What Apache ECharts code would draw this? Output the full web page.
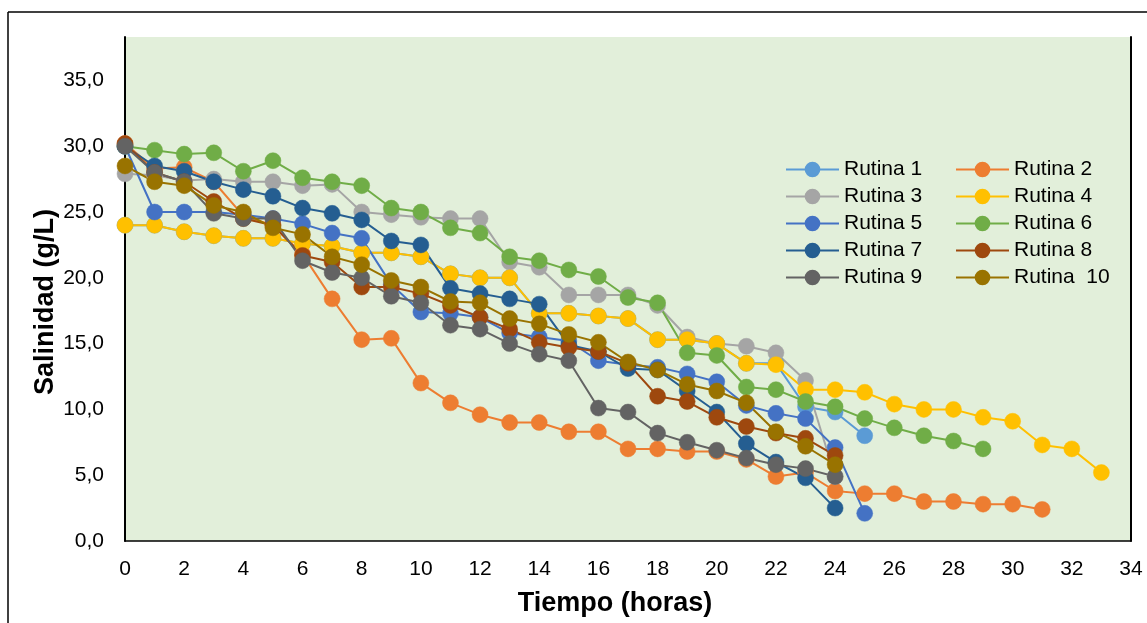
<!DOCTYPE html>
<html>
<head>
<meta charset="utf-8">
<script src="https://cdn.jsdelivr.net/npm/echarts@6/dist/echarts.min.js"></script>
<style>
html,body{margin:0;padding:0;background:#fff;}
#chart{width:1147px;height:623px;}
</style>
</head>
<body>
<div id="chart"></div>
<script>
// Tiempo (horas) ticks
const xTicks = [0,2,4,6,8,10,12,14,16,18,20,22,24,26,28,30,32,34];
const yTicks = [0,5,10,15,20,25,30,35];
const seriesNames = ['Rutina 1','Rutina 2','Rutina 3','Rutina 4','Rutina 5','Rutina 6','Rutina 7','Rutina 8','Rutina 9','Rutina  10'];
// Salinidad (g/L), hour 0,1,2,...
const rutina1 = [24.0,24.0,23.5,23.2,23.0,23.0,22.6,22.4,21.9,21.9,21.6,20.3,20.0,20.0,17.3,17.3,17.1,16.9,15.3,15.3,15.0,13.5,13.5,10.2,9.8,8.0];
const rutina2 = [30.2,28.3,28.4,27.3,24.7,24.0,21.8,18.4,15.3,15.4,12.0,10.5,9.6,9.0,9.0,8.3,8.3,7.0,7.0,6.8,6.8,6.2,4.9,5.2,3.8,3.6,3.6,3.0,3.0,2.8,2.8,2.4];
const rutina3 = [27.9,27.8,27.4,27.5,27.3,27.3,27.0,27.1,25.0,24.8,24.6,24.5,24.5,21.2,20.8,18.7,18.7,18.7,17.9,15.5,15.0,14.8,14.3,12.2,4.9];
const rutina4 = [24.0,24.0,23.5,23.2,23.0,23.0,22.6,22.4,21.9,21.9,21.6,20.3,20.0,20.0,17.3,17.3,17.1,16.9,15.3,15.3,15.0,13.5,13.4,11.5,11.5,11.3,10.4,10.0,10.0,9.4,9.1,7.3,7.0,5.2];
const rutina5 = [30.0,25.0,25.0,25.0,24.8,24.5,24.1,23.4,23.0,19.5,17.4,17.3,17.0,15.8,15.5,15.2,13.7,13.4,13.2,12.7,12.1,10.3,9.7,9.3,7.1,2.1];
const rutina6 = [30.0,29.7,29.4,29.5,28.1,28.9,27.6,27.3,27.0,25.3,25.0,23.8,23.4,21.6,21.3,20.6,20.1,18.5,18.1,14.3,14.1,11.7,11.5,10.6,10.2,9.3,8.6,8.0,7.6,7.0];
const rutina7 = [30.0,28.5,28.1,27.3,26.7,26.2,25.3,24.9,24.4,22.8,22.5,19.2,18.8,18.4,18.0,14.9,14.4,13.1,13.0,11.4,9.8,7.4,6.0,4.8,2.5];
const rutina8 = [30.2,28.0,27.3,25.8,24.5,24.0,21.7,21.2,19.3,19.3,18.8,17.9,17.0,16.1,15.1,14.7,14.4,13.5,11.0,10.6,9.4,8.7,8.2,7.8,6.5];
const rutina9 = [30.0,28.0,27.3,24.9,24.5,24.5,21.3,20.4,20.0,18.6,18.1,16.4,16.1,15.0,14.2,13.7,10.1,9.8,8.2,7.5,6.9,6.3,5.8,5.5,4.9];
const rutina10 = [28.5,27.3,27.0,25.5,25.0,23.8,23.3,21.6,21.0,19.8,19.3,18.2,18.1,16.9,16.5,15.7,15.1,13.6,13.0,11.9,11.4,10.5,8.3,7.2,5.8];

const allData = [rutina1,rutina2,rutina3,rutina4,rutina5,rutina6,rutina7,rutina8,rutina9,rutina10];
const colors = ['#5B9BD5','#ED7D31','#A5A5A5','#FFC000','#4472C4','#70AD47','#255E91','#9E480E','#636363','#997300'];

const series = allData.map((arr, i) => ({
  name: seriesNames[i],
  type: 'line',
  data: arr.map((v, h) => [h, v]),
  symbol: 'circle',
  symbolSize: 16,
  showSymbol: true,
  lineStyle: { width: 2, color: colors[i] },
  itemStyle: { color: colors[i], borderColor: colors[i], borderWidth: 0.5, opacity: 1 },
  emphasis: { disabled: true },
  animation: false
}));

const FONT = '"Liberation Sans", Arial, sans-serif';
const legendCommon = {
  orient: 'vertical', top: 159, itemWidth: 53, itemHeight: 17, itemGap: 6.0, padding: 0,
  textStyle: { fontFamily: FONT, fontSize: 21, color: '#000' },
  selectedMode: false
};
const chart = echarts.init(document.getElementById('chart'));
chart.setOption({
  animation: false,
  backgroundColor: '#ffffff',
  grid: {
    left: 125, right: 16, top: 37, bottom: 82,
    show: true, backgroundColor: '#E2EFDA', borderWidth: 0, containLabel: false
  },
  legend: [
    Object.assign({}, legendCommon, {
      data: [seriesNames[0],seriesNames[2],seriesNames[4],seriesNames[6],seriesNames[8]],
      left: 785
    }),
    Object.assign({}, legendCommon, {
      data: [seriesNames[1],seriesNames[3],seriesNames[5],seriesNames[7],seriesNames[9]],
      left: 955
    })
  ],
  xAxis: {
    type: 'value', min: 0, max: 34, interval: 2,
    axisLine: { show: true, lineStyle: { color: '#000', width: 1.5 } },
    axisTick: { show: false },
    splitLine: { show: false },
    axisLabel: { fontFamily: FONT, fontSize: 21, color: '#000', margin: 18,
      formatter: v => (xTicks.indexOf(v) >= 0 ? String(v) : '') }
  },
  yAxis: [{
    type: 'value', min: 0, max: 38.3, interval: 5,
    axisLine: { show: true, lineStyle: { color: '#000', width: 2 } },
    axisTick: { show: false },
    splitLine: { show: false },
    axisLabel: { fontFamily: FONT, fontSize: 21, color: '#000', margin: 21, showMaxLabel: false,
      formatter: v => (yTicks.indexOf(v) >= 0 ? v.toFixed(1).replace('.', ',') : '') }
  }, {
    type: 'value', min: 0, max: 38.3, interval: 5, position: 'right',
    axisLine: { show: true, lineStyle: { color: '#000', width: 2 } },
    axisTick: { show: false }, axisLabel: { show: false }, splitLine: { show: false }
  }],
  graphic: [
    { type: 'line', shape: { x1: 8, y1: 12, x2: 1147, y2: 12 }, style: { stroke: '#000', lineWidth: 1.5 } },
    { type: 'line', shape: { x1: 8, y1: 12, x2: 8, y2: 623 }, style: { stroke: '#000', lineWidth: 1.5 } },
    { type: 'text', x: 615, y: 604, style: { text: 'Tiempo (horas)', x: 0, y: 0, textAlign: 'center', textVerticalAlign: 'middle', font: 'bold 27px ' + FONT, fill: '#000' } },
    { type: 'text', x: 46, y: 302, rotation: Math.PI / 2, style: { text: 'Salinidad (g/L)', x: 0, y: 0, textAlign: 'center', textVerticalAlign: 'middle', font: 'bold 27px ' + FONT, fill: '#000' } }
  ],
  series: series
});
</script>
</body>
</html>
